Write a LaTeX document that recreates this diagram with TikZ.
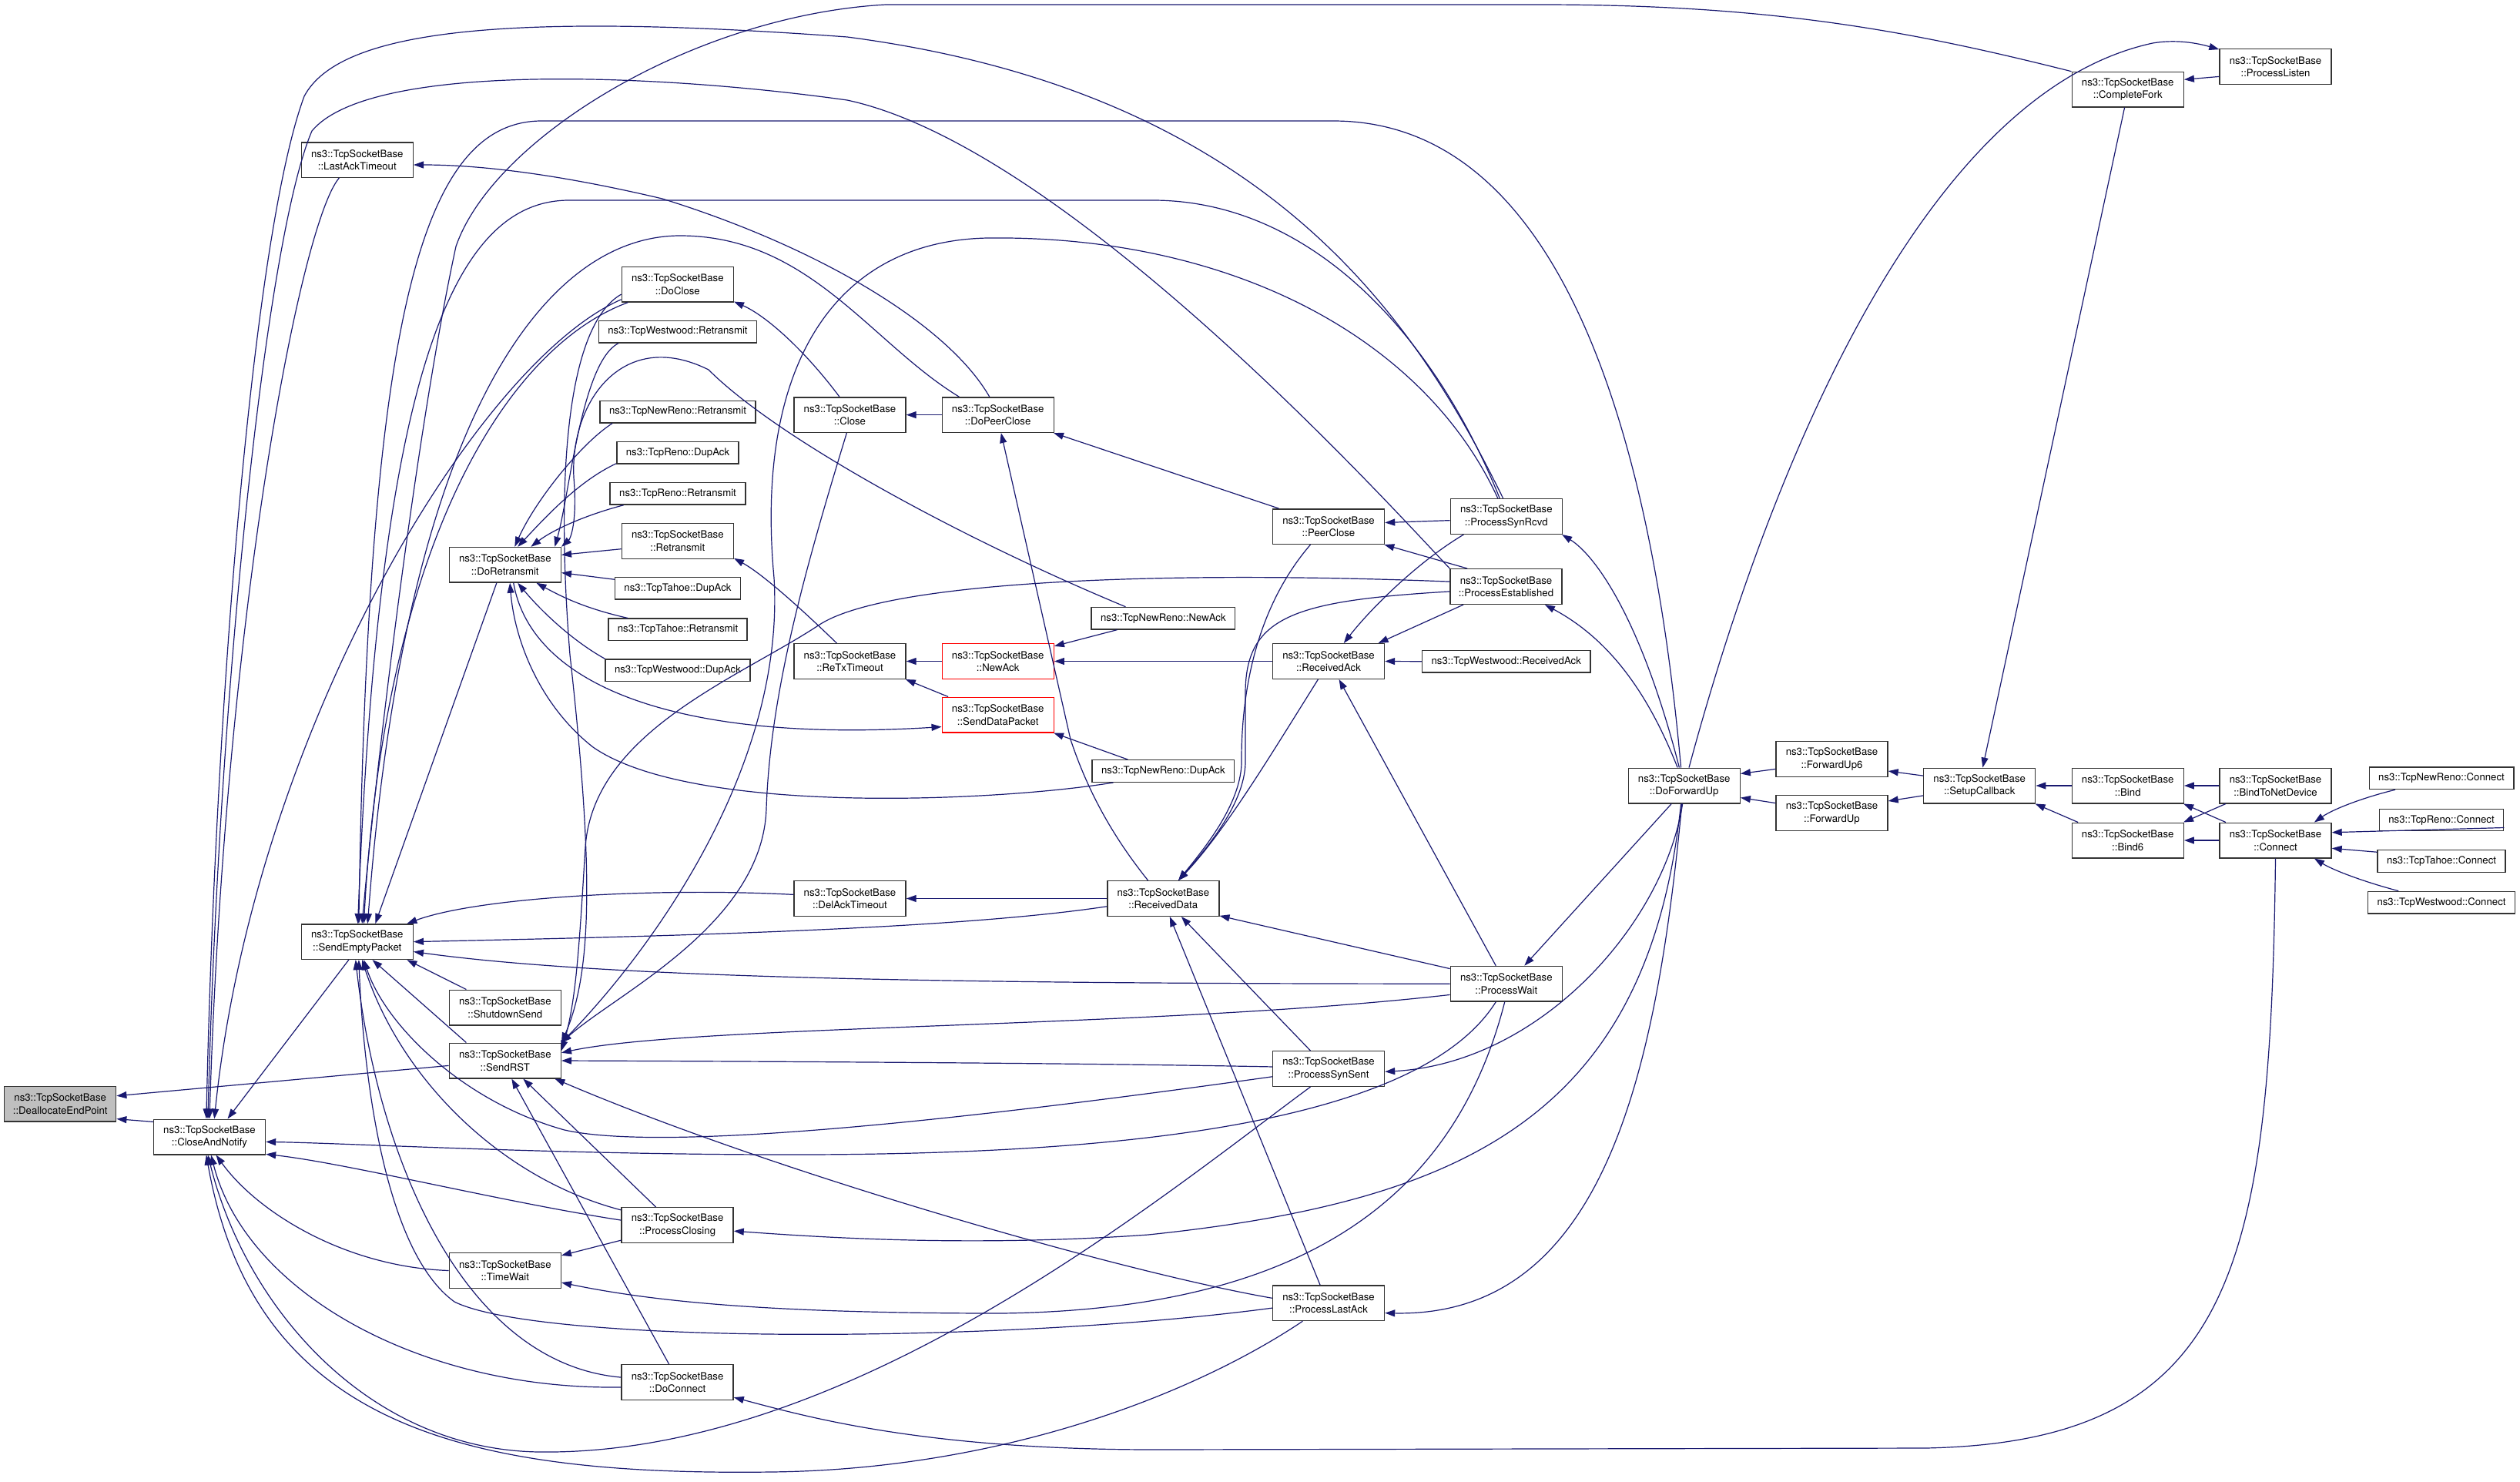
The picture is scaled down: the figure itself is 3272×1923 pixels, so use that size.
\documentclass[tikz,border=0pt]{standalone}
\usepackage{fontspec}
\setmainfont{TeX Gyre Heros}
\usetikzlibrary{arrows.meta}
\definecolor{edgeblue}{HTML}{191970}
\definecolor{focusgray}{HTML}{BFBFBF}
\tikzset{
  fn/.style={draw=black!80, line width=1.4pt, fill=white, align=center,
    minimum width=145pt, minimum height=45.6pt, inner xsep=8pt, inner ysep=0pt,
    font=\fontsize{13.2pt}{16.6pt}\selectfont},
  fn1/.style={fn, minimum width=0pt, minimum height=28.5pt, inner xsep=12pt},
  focus/.style={fill=focusgray},
  flagged/.style={draw=red},
  call/.style={draw=edgeblue, line width=1.2pt, -{Triangle[length=13pt,width=9pt]}},
}
\begin{document}
\begin{tikzpicture}[x=1pt,y=-1pt]
\useasboundingbox (0,0) rectangle (3272,1923);

% functions, left to right
\node[fn,focus] (dep) at (78.2,1433) {ns3::TcpSocketBase\\::DeallocateEndPoint};
\node[fn] (can) at (272,1476) {ns3::TcpSocketBase\\::CloseAndNotify};
\node[fn] (lat) at (463.8,207.6) {ns3::TcpSocketBase\\::LastAckTimeout};
\node[fn] (sep) at (463.8,1222.6) {ns3::TcpSocketBase\\::SendEmptyPacket};
\node[fn] (dr) at (655.8,733.3) {ns3::TcpSocketBase\\::DoRetransmit};
\node[fn] (ss) at (655.8,1308) {ns3::TcpSocketBase\\::ShutdownSend};
\node[fn] (srst) at (655.8,1377) {ns3::TcpSocketBase\\::SendRST};
\node[fn] (tw) at (655.8,1649.5) {ns3::TcpSocketBase\\::TimeWait};
\node[fn] (doclose) at (879.8,369.2) {ns3::TcpSocketBase\\::DoClose};
\node[fn1] (twretx) at (880,430.6) {ns3::TcpWestwood::Retransmit};
\node[fn1] (nrretx) at (880,534.6) {ns3::TcpNewReno::Retransmit};
\node[fn1] (rdup) at (880,587.7) {ns3::TcpReno::DupAck};
\node[fn1] (rretx) at (880,640.8) {ns3::TcpReno::Retransmit};
\node[fn] (tsbr) at (879.8,702.4) {ns3::TcpSocketBase\\::Retransmit};
\node[fn1] (tdup) at (880,763.8) {ns3::TcpTahoe::DupAck};
\node[fn1] (tretx) at (880,817.4) {ns3::TcpTahoe::Retransmit};
\node[fn1] (twdup) at (880,870.3) {ns3::TcpWestwood::DupAck};
\node[fn] (pcl) at (879.6,1590.5) {ns3::TcpSocketBase\\::ProcessClosing};
\node[fn] (dconn) at (879.6,1794.5) {ns3::TcpSocketBase\\::DoConnect};
\node[fn] (close) at (1103.5,538.6) {ns3::TcpSocketBase\\::Close};
\node[fn] (retx) at (1103.5,858.5) {ns3::TcpSocketBase\\::ReTxTimeout};
\node[fn] (delack) at (1103.5,1166.5) {ns3::TcpSocketBase\\::DelAckTimeout};
\node[fn] (dpc) at (1295.7,538.6) {ns3::TcpSocketBase\\::DoPeerClose};
\node[fn,flagged] (newack) at (1295.7,858.5) {ns3::TcpSocketBase\\::NewAck};
\node[fn,flagged] (sdp) at (1295.7,928) {ns3::TcpSocketBase\\::SendDataPacket};
\node[fn1] (nrnewack) at (1510.4,802.7) {ns3::TcpNewReno::NewAck};
\node[fn1] (nrdup) at (1510.4,1001) {ns3::TcpNewReno::DupAck};
\node[fn] (rdata) at (1510.3,1166.5) {ns3::TcpSocketBase\\::ReceivedData};
\node[fn] (pc) at (1725,683.6) {ns3::TcpSocketBase\\::PeerClose};
\node[fn] (rack) at (1725,858.5) {ns3::TcpSocketBase\\::ReceivedAck};
\node[fn] (pss) at (1725,1387.5) {ns3::TcpSocketBase\\::ProcessSynSent};
\node[fn] (pla) at (1725,1691.7) {ns3::TcpSocketBase\\::ProcessLastAck};
\node[fn] (psr) at (1955.8,670.5) {ns3::TcpSocketBase\\::ProcessSynRcvd};
\node[fn] (pe) at (1955.5,761.5) {ns3::TcpSocketBase\\::ProcessEstablished};
\node[fn1] (twrack) at (1955.8,858.7) {ns3::TcpWestwood::ReceivedAck};
\node[fn] (pw) at (1955.8,1277.2) {ns3::TcpSocketBase\\::ProcessWait};
\node[fn] (dfu) at (2186.7,1020) {ns3::TcpSocketBase\\::DoForwardUp};
\node[fn] (fu6) at (2378.5,985.5) {ns3::TcpSocketBase\\::ForwardUp6};
\node[fn] (fu) at (2378.5,1055.5) {ns3::TcpSocketBase\\::ForwardUp};
\node[fn] (setup) at (2570.2,1020) {ns3::TcpSocketBase\\::SetupCallback};
\node[fn] (bind) at (2762.7,1020) {ns3::TcpSocketBase\\::Bind};
\node[fn] (bind6) at (2762.7,1091) {ns3::TcpSocketBase\\::Bind6};
\node[fn] (btnd) at (2954.5,1020) {ns3::TcpSocketBase\\::BindToNetDevice};
\node[fn] (connect) at (2954.5,1091) {ns3::TcpSocketBase\\::Connect};
\node[fn1] (nrconn) at (3170,1010.3) {ns3::TcpNewReno::Connect};
\node[fn1] (rconn) at (3170,1064.5) {ns3::TcpReno::Connect};
\node[fn1] (tconn) at (3170,1118) {ns3::TcpTahoe::Connect};
\node[fn1] (twconn) at (3170,1171.6) {ns3::TcpWestwood::Connect};
\node[fn] (cfork) at (2762.7,116.2) {ns3::TcpSocketBase\\::CompleteFork};
\node[fn] (plisten) at (2954.5,86.5) {ns3::TcpSocketBase\\::ProcessListen};

% DeallocateEndPoint
\draw[call] (can.165) -- (dep.-15);
\draw[call] (srst.-175) -- (dep.8);

% CloseAndNotify
\draw[call] (lat.-135) .. controls (390,290) and (292,800) .. (can.90);
\draw[call] (doclose.-165) .. controls (620,470) and (330,950) .. (can.75);
\draw[call] (sep.-115) -- (can.45);
\draw[call] (psr.100) .. controls (1840,420) and (1650,120) .. (1100,48) .. controls (650,15) and (440,40) .. (395,125) .. controls (330,300) and (280,900) .. (can.100);
\draw[call] (pe.north west) .. controls (1790,640) and (1380,190) .. (1100,130) .. controls (850,95) and (480,80) .. (405,170) .. controls (345,310) and (284,900) .. (can.95);
\draw[call] (pw.-120) .. controls (1830,1480) and (1350,1500) .. (1000,1499) .. controls (700,1498) and (450,1484) .. (can.-5);
\draw[call] (pcl.175) .. controls (650,1560) and (450,1510) .. (can.-17);
\draw[call] (tw.west) .. controls (450,1645) and (335,1575) .. (can.-70);
\draw[call] (dconn.-175) .. controls (550,1805) and (320,1680) .. (can.-85);
\draw[call] (pss.-135) .. controls (1500,1560) and (1100,1890) .. (700,1885) .. controls (480,1882) and (320,1700) .. (can.-95);
\draw[call] (pla.-145) .. controls (1550,1810) and (1300,1908) .. (1000,1911) .. controls (600,1916) and (330,1850) .. (can.-100);

% SendEmptyPacket
\draw[call] (cfork.north west) .. controls (2480,40) and (2300,6) .. (2000,6) -- (1150,6) .. controls (900,20) and (640,180) .. (592,320) .. controls (540,560) and (488,1000) .. (sep.75);
\draw[call] (dfu.100) .. controls (2140,520) and (2010,157) .. (1731,157) -- (701,157) .. controls (545,160) and (478,420) .. (sep.85);
\draw[call] (psr.110) .. controls (1860,430) and (1700,262) .. (1500,260) -- (737,260) .. controls (590,262) and (492,480) .. (sep.88);
\draw[call] (doclose.-160) .. controls (660,450) and (500,700) .. (sep.70);
\draw[call] (dpc.155) .. controls (1130,445) and (1050,305) .. (881,306) .. controls (700,308) and (525,560) .. (sep.60);
\draw[call] (dr.-115) -- (sep.45);
\draw[call] (delack.176) .. controls (850,1152) and (620,1165) .. (sep.20);
\draw[call] (rdata.-172) .. controls (1250,1205) and (900,1215) .. (sep.0);
\draw[call] (pw.180) .. controls (1300,1277) and (800,1272) .. (sep.-10);
\draw[call] (ss.155) -- (sep.-20);
\draw[call] (srst.155) -- (sep.-50);
\draw[call] (pss.-172) .. controls (1350,1440) and (880,1500) .. (733,1467) .. controls (600,1430) and (500,1330) .. (sep.-70);
\draw[call] (pcl.165) .. controls (650,1530) and (520,1400) .. (sep.-75);
\draw[call] (pla.-175) .. controls (1300,1745) and (700,1745) .. (590,1690) .. controls (500,1625) and (472,1400) .. (sep.-85);
\draw[call] (dconn.175) .. controls (600,1770) and (490,1500) .. (sep.-95);

% SendRST
\draw[call] (close.-100) .. controls (1045,740) and (1000,900) .. (995,1050) .. controls (990,1200) and (800,1290) .. (srst.north east);
\draw[call] (psr.115) .. controls (1850,440) and (1600,305) .. (1282,309) .. controls (1080,313) and (980,480) .. (1005,750) .. controls (1020,1000) and (840,1240) .. (srst.north east);
\draw[call] (pe.175) .. controls (1500,740) and (1150,755) .. (1064,811) .. controls (960,880) and (770,950) .. (760,1100) .. controls (752,1230) and (748,1300) .. (srst.10);
\draw[call] (doclose.-170) .. controls (740,420) and (720,600) .. (740,850) .. controls (770,1120) and (770,1260) .. (srst.north east);
\draw[call] (pw.-169) .. controls (1500,1335) and (900,1330) .. (srst.8);
\draw[call] (pss.178) .. controls (1400,1380) and (1000,1378) .. (srst.0);
\draw[call] (pla.175) .. controls (1450,1650) and (1000,1520) .. (srst.-20);
\draw[call] (pcl.140) -- (srst.-45);
\draw[call] (dconn.115) -- (srst.-70);

% TimeWait
\draw[call] (pcl.-165) -- (tw.15);
\draw[call] (pw.-95) .. controls (1890,1550) and (1700,1700) .. (1300,1705) .. controls (1000,1705) and (850,1690) .. (tw.-12);

% DoRetransmit
\draw[call] (twretx.-169) .. controls (755,470) and (740,640) .. (dr.20);
\draw[call] (nrretx.-170) .. controls (755,575) and (695,650) .. (dr.62);
\draw[call] (rdup.-170) .. controls (750,625) and (705,675) .. (dr.55);
\draw[call] (rretx.-168) .. controls (755,670) and (715,690) .. (dr.35);
\draw[call] (tsbr.-172) -- (dr.10);
\draw[call] (tdup.172) -- (dr.-8);
\draw[call] (tretx.167) .. controls (760,790) and (730,775) .. (dr.-30);
\draw[call] (twdup.171) .. controls (740,830) and (700,790) .. (dr.-55);
\draw[call] (nrnewack.163) .. controls (1250,700) and (1010,570) .. (920,480) .. controls (810,425) and (740,520) .. (745,620) .. controls (750,680) and (740,700) .. (dr.north east);
\draw[call] (nrdup.-167) .. controls (1300,1040) and (900,1060) .. (770,970) .. controls (700,915) and (668,830) .. (dr.-75);

% SendDataPacket, timers
\draw[call] (dr.-65) .. controls (690,890) and (880,965) .. (sdp.-168);
\draw[call] (nrdup.162) -- (sdp.-18);
\draw[call] (newack.west) -- (retx.east);
\draw[call] (sdp.160) -- (retx.-18);
\draw[call] (retx.126) .. controls (1040,790) and (990,745) .. (tsbr.-17);
\draw[call] (nrnewack.-166) -- (newack.15);
\draw[call] (rack.west) -- (newack.east);

% closing
\draw[call] (dpc.west) -- (close.east);
\draw[call] (close.120) .. controls (1045,455) and (995,410) .. (doclose.-17);
\draw[call] (dpc.115) .. controls (1230,420) and (1060,320) .. (860,258) .. controls (720,225) and (620,214) .. (lat.-5);
\draw[call] (pc.160) -- (dpc.-18);
\draw[call] (rdata.130) .. controls (1440,1080) and (1410,1020) .. (1390,960) -- (dpc.-80);
\draw[call] (psr.-176) -- (pc.4);
\draw[call] (pe.155) -- (pc.-18);

% ReceivedData
\draw[call] (pc.-135) .. controls (1630,790) and (1612,900) .. (1612,985) .. controls (1614,1040) and (1565,1100) .. (rdata.50);
\draw[call] (pe.-175) .. controls (1680,780) and (1617,800) .. (1617,900) -- (1617,985) .. controls (1619,1040) and (1568,1100) .. (rdata.50);
\draw[call] (rack.-120) .. controls (1650,980) and (1590,1080) .. (rdata.50);
\draw[call] (pw.165) -- (rdata.-17);
\draw[call] (pss.135) -- (rdata.-45);
\draw[call] (pla.115) -- (rdata.-70);
\draw[call] (rdata.west) -- (delack.east);

% ReceivedAck
\draw[call] (psr.-157) .. controls (1840,730) and (1780,790) .. (rack.50);
\draw[call] (pe.-157) -- (rack.20);
\draw[call] (twrack.west) -- (rack.east);
\draw[call] (pw.120) -- (rack.-60);

% DoForwardUp
\draw[call] (dfu.105) .. controls (2130,800) and (2070,720) .. (psr.-18);
\draw[call] (dfu.110) .. controls (2140,900) and (2090,830) .. (pe.-25);
\draw[call] (dfu.-125) -- (pw.45);
\draw[call] (dfu.-95) .. controls (2160,1200) and (2000,1380) .. (pss.-3);
\draw[call] (dfu.-97) .. controls (2150,1400) and (2080,1710) .. (pla.-10);
\draw[call] (dfu.-100) .. controls (2140,1450) and (1900,1560) .. (1491,1603) .. controls (1250,1620) and (1050,1605) .. (pcl.-6);
\draw[call] (dfu.75) .. controls (2300,600) and (2500,120) .. (2795,56) .. controls (2830,50) and (2860,58) .. (plisten.163);

% listen, callbacks, connect
\draw[call] (plisten.-170) -- (cfork.10);
\draw[call] (cfork.-100) -- (setup.80);
\draw[call] (setup.170) -- (fu6.-12);
\draw[call] (setup.-170) -- (fu.12);
\draw[call] (fu6.-170) -- (dfu.12);
\draw[call] (fu.170) -- (dfu.-12);
\draw[call] (bind.west) -- (setup.east);
\draw[call] (bind6.160) -- (setup.-18);
\draw[call] (btnd.west) -- (bind.east);
\draw[call] (connect.160) -- (bind.-18);
\draw[call] (btnd.-160) -- (bind6.18);
\draw[call] (connect.west) -- (bind6.east);
\draw[call] (nrconn.-166) .. controls (3070,1035) and (3030,1050) .. (connect.25);
\draw[call] (rconn.-7) -- (connect.8);
\draw[call] (tconn.172) -- (connect.-8);
\draw[call] (twconn.165) .. controls (3070,1145) and (3030,1130) .. (connect.-25);
\draw[call] (connect.-90) .. controls (2948,1650) and (2900,1872) .. (2500,1880) -- (1500,1882) .. controls (1200,1882) and (1050,1840) .. (dconn.-15);
\end{tikzpicture}
\end{document}
